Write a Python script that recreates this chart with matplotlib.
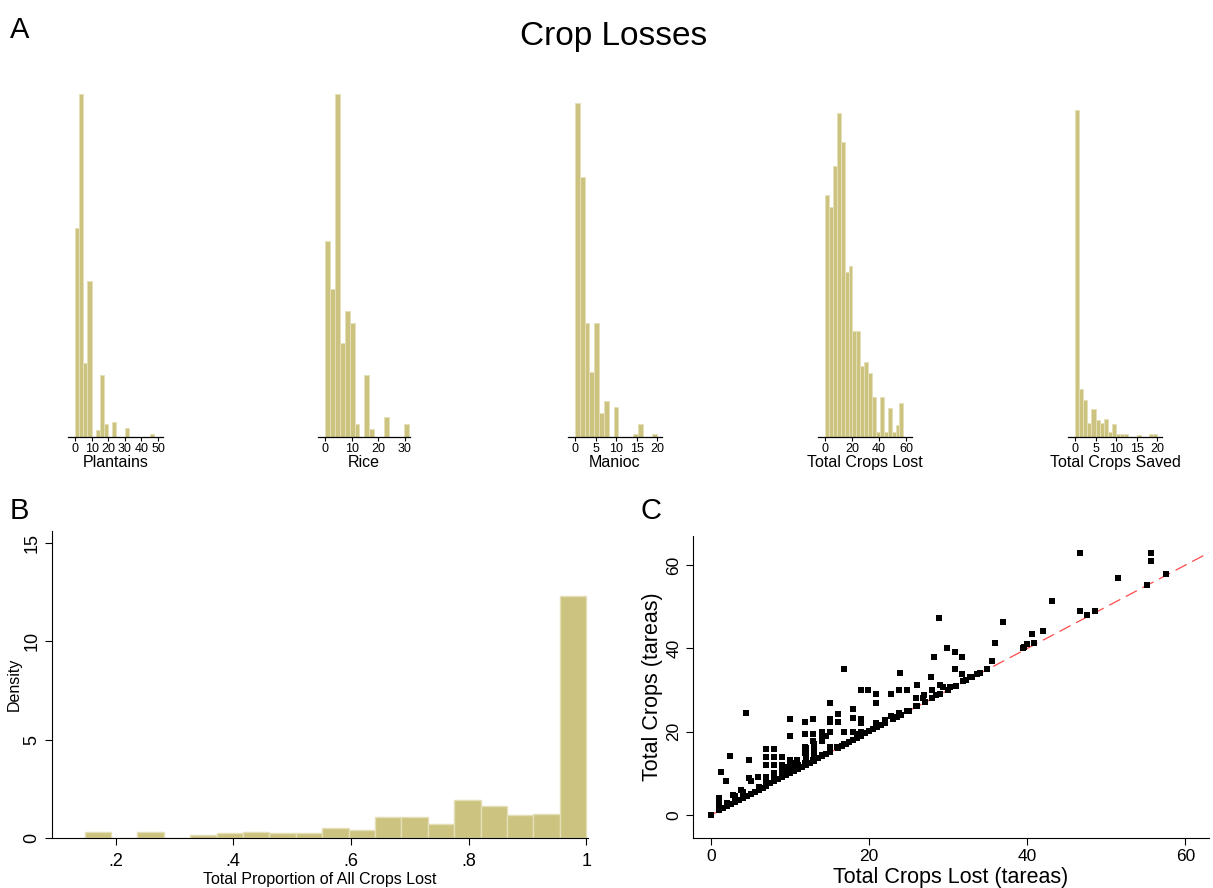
import numpy as np
import matplotlib
matplotlib.use("Agg")
import matplotlib.pyplot as plt

# ---------------- data ----------------
# Panel A: relative bar heights (tallest bar = 1)
plantains_start, plantains_width = 0.0, 2.5
plantains_heights = [0.61, 1.0, 0.215, 0.454, 0.0, 0.021, 0.18, 0.037, 0.0, 0.044,
                     0.0, 0.0, 0.027, 0.0, 0.0, 0.0, 0.0, 0.0, 0.008]
plantains_ticks = [0, 10, 20, 30, 40, 50]

rice_start, rice_width = 0.0, 1.85
rice_heights = [0.571, 0.431, 1.0, 0.275, 0.366, 0.332, 0.037, 0.0, 0.18, 0.024,
                0.0, 0.0, 0.057, 0.0, 0.0, 0.0, 0.037]
rice_ticks = [0, 10, 20, 30]

manioc_start, manioc_width = 0.0, 20 / 17
manioc_heights = [1.0, 0.778, 0.341, 0.195, 0.341, 0.071, 0.108, 0.0, 0.089, 0.0,
                  0.0, 0.0, 0.008, 0.039, 0.0, 0.0, 0.008]
manioc_ticks = [0, 5, 10, 15, 20]

lost_start, lost_width = 0.0, 2.9
lost_heights = [0.746, 0.71, 0.837, 1.0, 0.91, 0.508, 0.528, 0.326, 0.326, 0.218,
                0.233, 0.197, 0.124, 0.016, 0.124, 0.016, 0.09, 0.016, 0.036, 0.104]
lost_ticks = [0, 20, 40, 60]

saved_start, saved_width = 0.0, 1.0
saved_heights = [1.0, 0.147, 0.113, 0.044, 0.085, 0.053, 0.044, 0.054, 0.015, 0.041,
                 0.01, 0.008, 0.008, 0.0, 0.0, 0.005, 0.0, 0.0, 0.008, 0.008]
saved_ticks = [0, 5, 10, 15, 20]

hist_labels = ["Plantains", "Rice", "Manioc", "Total Crops Lost", "Total Crops Saved"]

# Panel B: density of proportion lost
prop_start, prop_width = 0.1475, 0.04487
prop_density = [0.32, 0.0, 0.32, 0.0, 0.17, 0.24, 0.29, 0.27, 0.27, 0.525,
                0.42, 1.05, 1.05, 0.69, 1.93, 1.64, 1.17, 1.22, 12.29]
prop_xticks = [0.2, 0.4, 0.6, 0.8, 1.0]
prop_xticklabels = [".2", ".4", ".6", ".8", "1"]
prop_yticks = [0, 5, 10, 15]

# Panel C: total crops lost vs total crops (tareas)
crops_lost = [46.7, 55.6, 55.6, 51.5, 57.6, 55.1, 43.1, 48.6, 46.7, 47.6, 28.8, 36.9,
              42.0, 40.6, 40.9, 40.0, 39.6, 39.4, 35.9, 35.6, 34.9, 33.7, 32.7, 32.3,
              31.9, 31.7, 31.7, 30.9, 29.9, 28.2, 30.9, 30.2, 29.4, 28.9, 28.5, 27.9,
              27.8, 26.9, 26.8, 26.0, 25.9, 25.9, 24.8, 24.8, 23.9, 23.8, 23.8, 22.8,
              22.8, 22.0, 22.0, 20.9, 20.8, 20.8, 19.9, 19.0, 19.0, 19.0, 18.9, 18.5,
              18.0, 17.9, 17.9, 16.8, 16.8, 16.8, 16.0, 16.0, 15.9, 15.0, 15.0, 15.0,
              15.0, 15.0, 15.0, 14.0, 14.0, 14.0, 12.9, 12.9, 12.9, 12.9, 11.9, 11.9,
              11.9, 11.9, 11.9, 10.9, 10.0, 10.0, 10.0, 10.0, 9.0, 8.0, 8.0, 8.0, 8.0,
              6.9, 6.9, 6.9, 6.9, 5.9, 4.8, 4.8, 4.4, 3.8, 2.8, 2.4, 1.9, 1.3, 1.0, 0.0,
              1.0, 1.0, 1.0, 1.0, 1.5, 2.0, 2.0, 2.5, 3.0, 3.0, 3.0, 3.5, 4.0, 4.0, 4.0,
              4.5, 5.0, 5.0, 5.5, 6.0, 6.0, 6.5, 7.0, 7.0, 7.5, 8.0, 8.0, 8.5, 9.0, 9.0,
              9.0, 9.0, 9.5, 9.5, 9.5, 10.0, 10.0, 10.5, 10.5, 10.5, 11.0, 11.0, 11.5,
              12.0, 12.0, 12.0, 12.0, 12.0, 12.5, 13.0, 13.0, 13.0, 13.0, 13.0, 13.5,
              14.0, 14.0, 14.0, 14.5, 14.5, 15.0, 16.0, 16.5, 17.0, 17.5, 18.0, 18.5,
              19.0, 19.5, 20.0, 20.5, 21.0, 21.5, 22.0, 23.0, 23.5, 24.0, 25.0, 26.0,
              27.0, 28.0, 29.0, 30.0, 31.0, 33.0, 34.0]
crops_total = [62.9, 62.9, 60.9, 57.0, 57.8, 55.3, 51.4, 48.9, 48.9, 48.0, 47.4, 46.3,
               44.1, 43.4, 41.2, 41.0, 40.4, 40.0, 41.2, 37.0, 35.1, 33.9, 33.1, 32.5,
               32.1, 33.9, 38.0, 39.2, 40.2, 38.0, 35.1, 30.8, 30.8, 31.3, 28.8, 30.1,
               33.1, 28.8, 28.2, 31.3, 28.2, 26.2, 30.0, 25.0, 34.1, 30.1, 24.4, 29.0,
               23.8, 22.9, 22.3, 22.1, 29.0, 27.0, 30.1, 30.1, 23.0, 22.1, 20.0, 19.5,
               25.4, 23.4, 20.0, 35.1, 20.0, 17.1, 24.2, 22.3, 16.3, 27.0, 23.0, 22.3,
               20.0, 16.3, 15.2, 19.5, 17.9, 14.4, 23.0, 19.5, 17.9, 13.2, 22.3, 19.5,
               16.3, 14.8, 12.4, 13.2, 23.0, 19.1, 13.2, 11.2, 14.0, 15.9, 14.0, 12.0,
               10.0, 15.9, 14.0, 12.0, 9.2, 9.2, 13.2, 8.8, 24.6, 6.1, 4.9, 14.1, 8.1,
               10.3, 4.1, 0.0,
               1.2, 2.0, 2.8, 3.5, 1.6, 2.1, 2.8, 2.6, 3.1, 3.8, 4.5, 3.6, 4.1, 5.0, 5.6,
               4.6, 5.1, 8.2, 5.6, 6.1, 6.8, 6.6, 7.1, 8.0, 7.6, 8.1, 9.0, 8.6, 9.1, 10.0,
               11.0, 12.0, 9.6, 10.5, 11.5, 10.1, 12.0, 10.6, 11.5, 12.5, 11.1, 12.0, 11.6,
               12.1, 13.0, 14.0, 15.0, 16.0, 12.6, 13.1, 14.0, 15.0, 16.0, 17.0, 13.6,
               14.1, 18.5, 20.0, 14.6, 19.0, 15.1, 16.1, 16.6, 17.1, 17.6, 18.1, 18.6,
               19.1, 19.6, 20.1, 20.6, 21.1, 21.6, 22.1, 23.1, 23.6, 24.1, 25.1, 26.1,
               27.1, 28.1, 29.1, 30.1, 31.1, 33.1, 34.1]
c_ticks = [0, 20, 40, 60]

# ---------------- style ----------------
plt.rcParams['font.family'] = ['Liberation Sans', 'DejaVu Sans']
BAR = '#cbc37f'
EDGE = '#e4dfb6'

W, H = 1213, 888
fig = plt.figure(figsize=(W / 100, H / 100), dpi=100)


def px_axes(l, r, b, t):
    return fig.add_axes([l / W, 1 - b / H, (r - l) / W, (b - t) / H])


# Panel A small histograms
hist_specs = [
    (plantains_start, plantains_width, plantains_heights, plantains_ticks, (68, 163, 94), (-4.2, 53.0)),
    (rice_start, rice_width, rice_heights, rice_ticks, (318, 410, 94), (-2.6, 31.9)),
    (manioc_start, manioc_width, manioc_heights, manioc_ticks, (568, 662, 103), (-1.7, 21.2)),
    (lost_start, lost_width, lost_heights, lost_ticks, (818, 912, 113), (-5.2, 64.4)),
    (saved_start, saved_width, saved_heights, saved_ticks, (1068, 1162, 110), (-1.7, 21.2)),
]
for (start, width, heights, ticks, (l, r, t), xl), label in zip(hist_specs, hist_labels):
    ax = px_axes(l, r, 437, t)
    edges = start + width * np.arange(len(heights))
    ax.bar(edges, heights, width=width, align='edge', color=BAR, edgecolor=EDGE, linewidth=0.7)
    ax.set_xlim(*xl)
    ax.set_ylim(0, 1)
    for s in ['left', 'right', 'top']:
        ax.spines[s].set_visible(False)
    ax.spines['bottom'].set_linewidth(0.9)
    ax.set_yticks([])
    ax.set_xticks(ticks)
    ax.tick_params(axis='x', length=3, width=0.8, labelsize=9, pad=1.5)
    ax.set_xlabel(label, fontsize=11.5, labelpad=0)
    ax.patch.set_alpha(0)

# Panel B
axb = px_axes(52, 588, 838, 531)
edges = prop_start + prop_width * np.arange(len(prop_density))
axb.bar(edges, prop_density, width=prop_width, align='edge', color=BAR, edgecolor=EDGE, linewidth=1.0)
axb.set_xlim(0.092, 1.003)
axb.set_ylim(0, 15.6)
axb.spines['top'].set_visible(False)
axb.spines['right'].set_visible(False)
axb.set_xticks(prop_xticks)
axb.set_xticklabels(prop_xticklabels)
axb.set_yticks(prop_yticks)
axb.set_yticklabels([str(v) for v in prop_yticks], rotation=90, va='center')
axb.tick_params(axis='both', length=5, width=0.8, labelsize=13)
axb.tick_params(axis='x', pad=6)
axb.set_xlabel("Total Proportion of All Crops Lost", fontsize=11.5, labelpad=1)
axb.set_ylabel("Density", fontsize=11.5, labelpad=1)

# Panel C
axc = px_axes(693, 1209, 838, 536)
axc.scatter(crops_lost, crops_total, marker='s', s=13, color='black', linewidths=0, zorder=3)
axc.set_xlim(-2.3, 63)
axc.set_ylim(-5.5, 67)
lim = np.array(axc.get_xlim())
axc.plot([0, lim[1]], [0, lim[1]], color='#ff4a4a', linewidth=0.9, linestyle=(0, (10, 5)), zorder=2)
axc.spines['top'].set_visible(False)
axc.spines['right'].set_visible(False)
axc.set_xticks(c_ticks)
axc.set_yticks(c_ticks)
axc.set_yticklabels([str(v) for v in c_ticks], rotation=90, va='center')
axc.tick_params(axis='both', length=5, width=0.8, labelsize=12.5)
axc.tick_params(axis='x', pad=3)
axc.set_xlabel("Total Crops Lost (tareas)", fontsize=15.5, labelpad=2)
axc.set_ylabel("Total Crops (tareas)", fontsize=15.5, labelpad=2)

# titles / panel letters
fig.text(614 / W, 1 - 37 / H, "Crop Losses", fontsize=24, ha='center', va='center')
fig.text(10 / W, 1 - 30 / H, "A", fontsize=21, ha='left', va='center')
fig.text(10 / W, 1 - 511 / H, "B", fontsize=21, ha='left', va='center')
fig.text(640 / W, 1 - 511 / H, "C", fontsize=21, ha='left', va='center')

fig.savefig("out.png", dpi=100)
